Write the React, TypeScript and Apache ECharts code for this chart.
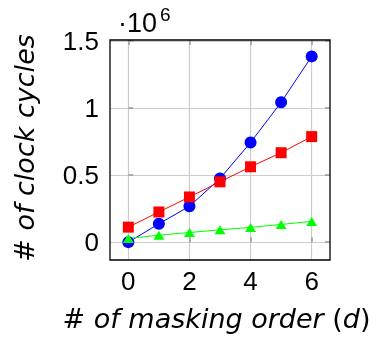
import React, { useEffect, useRef } from "react";
import * as echarts from "echarts";

const orders = [0, 1, 2, 3, 4, 5, 6];
const blueValues = [0.0, 0.137, 0.267, 0.475, 0.743, 1.043, 1.385];
const redValues = [0.112, 0.225, 0.337, 0.45, 0.562, 0.667, 0.787];
const greenValues = [0.027, 0.052, 0.072, 0.092, 0.11, 0.132, 0.155];
const xTickMin = 0;
const xTickMax = 6;
const xTickStep = 2;
const yTickMin = 0;
const yTickMax = 1.5;
const yTickStep = 0.5;

const tickFont = "'Liberation Sans', Arial, sans-serif";
const titleFont = "'DejaVu Sans', sans-serif";

// plot box (pixels) and its data extent
const BOX = { left: 110, top: 40, width: 220, height: 220 };
const X_RANGE = [-0.6, 6.6];
const Y_RANGE = [-0.133, 1.5075];

export default function App() {
  const ref = useRef<HTMLDivElement>(null);
  useEffect(() => {
    if (!ref.current) return;
    const chart = echarts.init(ref.current, undefined, { renderer: "svg" });
    const W = 380, H = 345;
    const pair = (xs: number[], ys: number[]) => xs.map((x, i) => [x, ys[i]]);
    const px = (v: number) => BOX.left + ((v - X_RANGE[0]) / (X_RANGE[1] - X_RANGE[0])) * BOX.width;
    const py = (v: number) => BOX.top + ((Y_RANGE[1] - v) / (Y_RANGE[1] - Y_RANGE[0])) * BOX.height;
    const boxRight = W - BOX.left - BOX.width;
    const boxBottom = H - BOX.top - BOX.height;

    const tickStyle = { show: true, inside: true, length: 5, lineStyle: { color: "#9a9a9a", width: 1.5 } };
    const gridLine = { show: true, lineStyle: { color: "#cccccc", width: 1.2 } };
    const titleRich = {
      n: { fontFamily: titleFont, fontSize: 27, fontStyle: "normal", fill: "#000", color: "#000" },
      i: { fontFamily: titleFont, fontSize: 27, fontStyle: "italic", fill: "#000", color: "#000" },
    };
    chart.setOption({
      animation: false,
      grid: [
        { left: BOX.left, right: boxRight, top: BOX.top, bottom: boxBottom, show: true, borderColor: "#000", borderWidth: 1.3, backgroundColor: "transparent", z: 5 },
        { left: BOX.left, right: boxRight, top: py(yTickMax), bottom: H - py(yTickMin) },
        { left: px(xTickMin), right: W - px(xTickMax), top: BOX.top, bottom: boxBottom },
      ],
      xAxis: [
        { gridIndex: 0, type: "value", min: X_RANGE[0], max: X_RANGE[1], show: false },
        { gridIndex: 1, type: "value", min: X_RANGE[0], max: X_RANGE[1], show: false },
        {
          gridIndex: 2, type: "value", min: xTickMin, max: xTickMax, interval: xTickStep, position: "bottom",
          axisLine: { show: false }, axisTick: tickStyle,
          axisLabel: { margin: 8, fontFamily: tickFont, fontSize: 26, color: "#000" },
          splitLine: gridLine,
        },
        {
          gridIndex: 2, type: "value", min: xTickMin, max: xTickMax, interval: xTickStep, position: "top",
          axisLine: { show: false }, axisTick: tickStyle, axisLabel: { show: false }, splitLine: { show: false },
        },
      ],
      yAxis: [
        { gridIndex: 0, type: "value", min: Y_RANGE[0], max: Y_RANGE[1], show: false },
        {
          gridIndex: 1, type: "value", min: yTickMin, max: yTickMax, interval: yTickStep, position: "left",
          axisLine: { show: false }, axisTick: tickStyle,
          axisLabel: { margin: 11, fontFamily: tickFont, fontSize: 26, color: "#000" },
          splitLine: gridLine,
        },
        {
          gridIndex: 1, type: "value", min: yTickMin, max: yTickMax, interval: yTickStep, position: "right",
          axisLine: { show: false }, axisTick: tickStyle, axisLabel: { show: false }, splitLine: { show: false },
        },
        { gridIndex: 2, type: "value", min: Y_RANGE[0], max: Y_RANGE[1], show: false },
      ],
      series: [
        {
          type: "line", xAxisIndex: 0, yAxisIndex: 0, z: 10,
          data: pair(orders, blueValues), symbol: "circle", symbolSize: 12,
          itemStyle: { color: "#0000ff" }, lineStyle: { color: "#0000ff", width: 1 },
        },
        {
          type: "line", xAxisIndex: 0, yAxisIndex: 0, z: 10,
          data: pair(orders, redValues), symbol: "rect", symbolSize: 11,
          itemStyle: { color: "#ff0000" }, lineStyle: { color: "#ff0000", width: 1 },
        },
        {
          type: "line", xAxisIndex: 0, yAxisIndex: 0, z: 10,
          data: pair(orders, greenValues), symbol: "triangle", symbolSize: [11, 9],
          itemStyle: { color: "#00ff00" }, lineStyle: { color: "#00ff00", width: 1 },
        },
      ],
      graphic: [
        {
          type: "text", x: 118, y: 22.5,
          style: { text: "·10", fontFamily: tickFont, fontSize: 27, fill: "#000", align: "left", verticalAlign: "middle" },
        },
        {
          type: "text", x: 160, y: 14,
          style: { text: "6", fontFamily: tickFont, fontSize: 19, fill: "#000", align: "left", verticalAlign: "middle" },
        },
        {
          type: "text", x: 216.5, y: 318,
          style: {
            text: "{n|#} {i|of masking order }{n|(}{i|d}{n|)}",
            rich: titleRich, fontFamily: titleFont, fontSize: 27, fill: "#000", align: "center", verticalAlign: "middle",
          },
        },
        {
          type: "text", x: 24, y: 148, rotation: Math.PI / 2,
          style: {
            text: "{n|#} {i|of clock cycles}",
            rich: titleRich, fontFamily: titleFont, fontSize: 27, fill: "#000", align: "center", verticalAlign: "middle",
          },
        },
      ],
    });
    return () => chart.dispose();
  }, []);
  return <div ref={ref} style={{ position: "fixed", left: 0, top: 0, width: 380, height: 345 }} />;
}
